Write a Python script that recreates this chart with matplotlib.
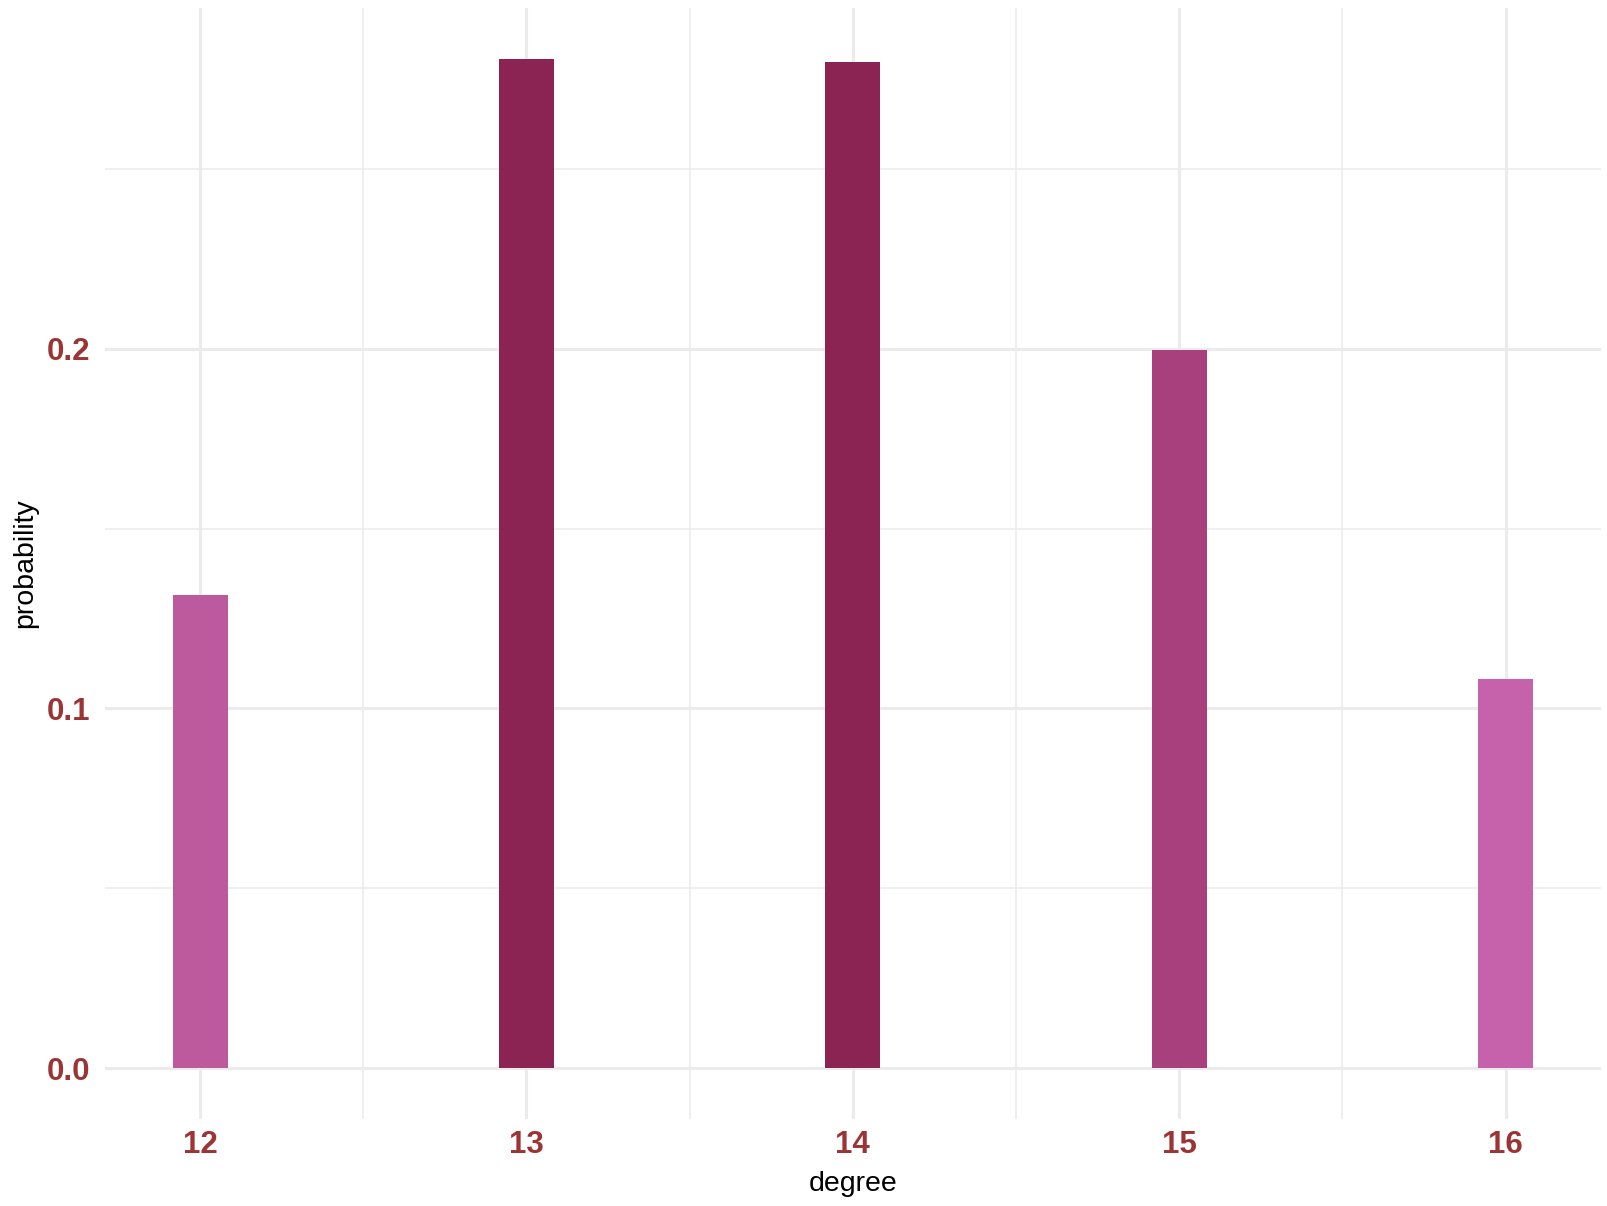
import matplotlib
matplotlib.use("Agg")
import matplotlib.pyplot as plt
import numpy as np

# Degree distribution
degrees = [12, 13, 14, 15, 16]
probability = [0.1314, 0.2806, 0.2797, 0.1997, 0.1083]
bar_colors = ["#bd5a9e", "#8b2452", "#8b2452", "#a7407c", "#c661ac"]

x_ticks = [12, 13, 14, 15, 16]
y_ticks = [0.0, 0.1, 0.2]
y_tick_labels = ["0.0", "0.1", "0.2"]

plt.rcParams["font.family"] = ["Liberation Sans", "DejaVu Sans"]

W, H, DPI = 1608, 1206, 100
fig = plt.figure(figsize=(W / DPI, H / DPI), dpi=DPI)
# panel in pixels: left 104.7, right 1601, top 8.4, bottom 1118.5
ax = fig.add_axes([104.7 / W, 1 - 1118.5 / H, (1601 - 104.7) / W, (1118.5 - 8.4) / H])

width = 0.168
ax.bar(degrees, probability, width=width, color=bar_colors, zorder=3)

# ggplot-style expansion
xlo, xhi = min(degrees) - width / 2, max(degrees) + width / 2
xpad = 0.05 * (xhi - xlo)
ax.set_xlim(xlo - xpad, xhi + xpad)
ylo, yhi = 0, max(probability)
ypad = 0.05 * (yhi - ylo)
ax.set_ylim(ylo - ypad, yhi + ypad)

grid_col = "#ebebeb"
for v in [12.5, 13.5, 14.5, 15.5]:
    ax.axvline(v, color=grid_col, lw=1.1, zorder=1)
for v in x_ticks:
    ax.axvline(v, color=grid_col, lw=2.2, zorder=1)
for v in [0.05, 0.15, 0.25]:
    ax.axhline(v, color=grid_col, lw=1.1, zorder=1)
for v in y_ticks:
    ax.axhline(v, color=grid_col, lw=2.2, zorder=1)

for s in ax.spines.values():
    s.set_visible(False)

ax.set_xticks(x_ticks)
ax.set_xticklabels([str(t) for t in x_ticks])
ax.set_yticks(y_ticks)
ax.set_yticklabels(y_tick_labels)
ax.tick_params(length=0, labelsize=22.5, labelcolor="#9b3434")
ax.tick_params(axis="x", pad=8)
ax.tick_params(axis="y", pad=10.5)
for lab in ax.get_xticklabels() + ax.get_yticklabels():
    lab.set_fontweight("bold")

ax.set_xlabel("degree", fontsize=20.5, color="black", labelpad=8)
ax.set_ylabel("probability", fontsize=20.5, color="black", labelpad=6)

fig.savefig("out.png", dpi=DPI, facecolor="white")
